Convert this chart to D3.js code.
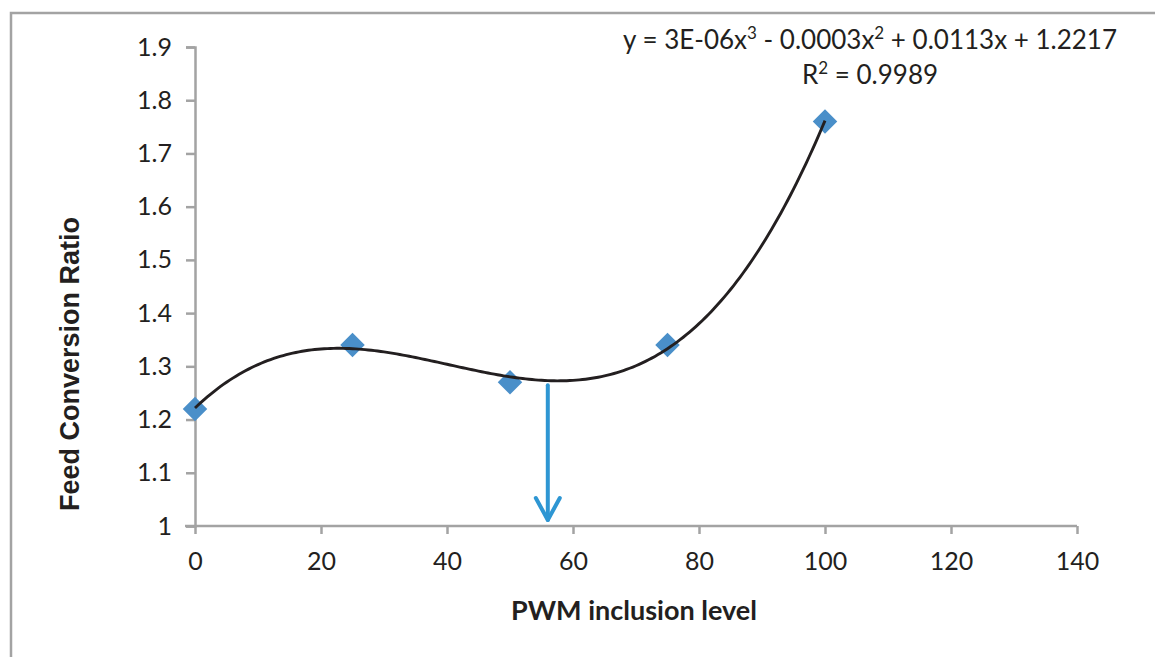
<!DOCTYPE html>
<html><head><meta charset="utf-8">
<script src="https://cdn.jsdelivr.net/npm/d3@7"></script>
<style>
html,body{margin:0;padding:0;background:#fff;}
svg{display:block;}
</style></head>
<body>
<svg id="chart" width="1155" height="657"></svg>
<script>
// ---- data ----
const inclusionLevels = [0, 25, 50, 75, 100];
const fcrValues = [1.22, 1.34, 1.27, 1.34, 1.76];
const xTicks = [0, 20, 40, 60, 80, 100, 120, 140];
const yTicks = [1, 1.1, 1.2, 1.3, 1.4, 1.5, 1.6, 1.7, 1.8, 1.9];
const arrowX = [56];
const arrowY = [1.27, 1.0];
const equationText = ["y = 3E-06x", "3", " - 0.0003x", "2", " + 0.0113x + 1.2217"];
const r2Text = ["R", "2", " = 0.9989"];

const svg = d3.select("#chart");
const x = d3.scaleLinear().domain([0, 140]).range([195, 1077]);
const y = d3.scaleLinear().domain([1, 1.9]).range([526, 47]);

// outer border
svg.append("path").attr("d", "M11,660 L11,13 L1160,13")
  .attr("fill", "none").attr("stroke", "#a3a3a3").attr("stroke-width", 2.5);

const tickFont = "Lato, 'Open Sans', sans-serif";

// y axis
const yAxis = svg.append("g").attr("transform", `translate(${x(0)},0)`)
  .call(d3.axisLeft(y).tickValues(yTicks).tickSize(9).tickPadding(14).tickFormat(d3.format("")));
// x axis
const xAxis = svg.append("g").attr("transform", `translate(0,${y(1)})`)
  .call(d3.axisBottom(x).tickValues(xTicks).tickSize(8).tickPadding(18).tickFormat(d3.format("")));
[yAxis, xAxis].forEach(g => {
  g.select(".domain").attr("stroke", "#a3a3a3").attr("stroke-width", 2.5);
  g.selectAll(".tick line").attr("stroke", "#a3a3a3").attr("stroke-width", 2.5);
  g.selectAll(".tick text").attr("fill", "#231f20").style("font-family", tickFont).style("font-size", "25px");
});
xAxis.select(".domain").attr("d", `M${x(0)-10},0H${x(140)}`);

// least squares cubic fit of the data (Excel-style polynomial trendline)
function polyfit(xs, ys, deg) {
  const n = deg + 1;
  const A = Array.from({length: n}, () => new Array(n + 1).fill(0));
  for (let i = 0; i < xs.length; i++) {
    for (let r = 0; r < n; r++) {
      for (let c = 0; c < n; c++) A[r][c] += Math.pow(xs[i], r + c);
      A[r][n] += ys[i] * Math.pow(xs[i], r);
    }
  }
  for (let c = 0; c < n; c++) {
    let p = c;
    for (let r = c + 1; r < n; r++) if (Math.abs(A[r][c]) > Math.abs(A[p][c])) p = r;
    [A[c], A[p]] = [A[p], A[c]];
    for (let r = 0; r < n; r++) if (r !== c) {
      const f = A[r][c] / A[c][c];
      for (let k = c; k <= n; k++) A[r][k] -= f * A[c][k];
    }
  }
  return A.map((row, i) => row[n] / row[i]);
}
const coef = polyfit(inclusionLevels, fcrValues, 3);
const fit = v => coef.reduce((s, c, i) => s + c * Math.pow(v, i), 0);
const curvePts = d3.range(0, 100.01, 0.5).map(v => [v, fit(v)]);

// markers
svg.append("g").selectAll("path").data(inclusionLevels.map((v, i) => [v, fcrValues[i]]))
  .enter().append("path")
  .attr("d", d3.symbol().type(d3.symbolSquare).size(300))
  .attr("transform", d => `translate(${x(d[0])},${y(d[1])}) rotate(45)`)
  .attr("fill", "#4a8fc9");

// trendline
svg.append("path").datum(curvePts)
  .attr("d", d3.line().x(d => x(d[0])).y(d => y(d[1])))
  .attr("fill", "none").attr("stroke", "#231f20").attr("stroke-width", 2.9);

// arrow
const ax = x(arrowX[0]);
const ay0 = y(arrowY[0]) + 3, ay1 = y(arrowY[1]) - 6;
const arrowG = svg.append("g").attr("stroke", "#2e96d3").attr("fill", "none")
  .attr("stroke-width", 4).attr("stroke-linecap", "round").attr("stroke-linejoin", "round");
arrowG.append("line").attr("x1", ax).attr("y1", ay0).attr("x2", ax).attr("y2", ay1);
arrowG.append("path").attr("d", `M${ax-12},${ay1-22} L${ax},${ay1} L${ax+12},${ay1-22}`);

// equation
const eqFont = "Lato, 'Open Sans', sans-serif";
function richText(parts, cx, cy) {
  const t = svg.append("text").attr("x", cx).attr("y", cy).attr("text-anchor", "middle")
    .style("font-family", eqFont).style("font-size", "26px").attr("fill", "#231f20");
  parts.forEach((p, i) => {
    const sup = i % 2 === 1;
    t.append("tspan").text(p)
      .attr("dy", sup ? -10 : (i > 0 ? 10 : 0))
      .style("font-size", sup ? "17px" : "26px");
  });
}
richText(equationText, 870, 49);
richText(r2Text, 870, 84);

// axis titles
svg.append("text").attr("x", 634).attr("y", 620).attr("text-anchor", "middle")
  .style("font-family", "Lato, 'Open Sans', sans-serif").style("font-weight", "bold")
  .style("font-size", "27px").attr("fill", "#231f20").text("PWM inclusion level");
svg.append("text").attr("transform", "translate(79,364) rotate(-90)").attr("text-anchor", "middle")
  .style("font-family", "'Liberation Sans', Arial, sans-serif").style("font-weight", "bold")
  .style("font-size", "27px").attr("fill", "#231f20").text("Feed Conversion Ratio");
</script>
</body></html>
